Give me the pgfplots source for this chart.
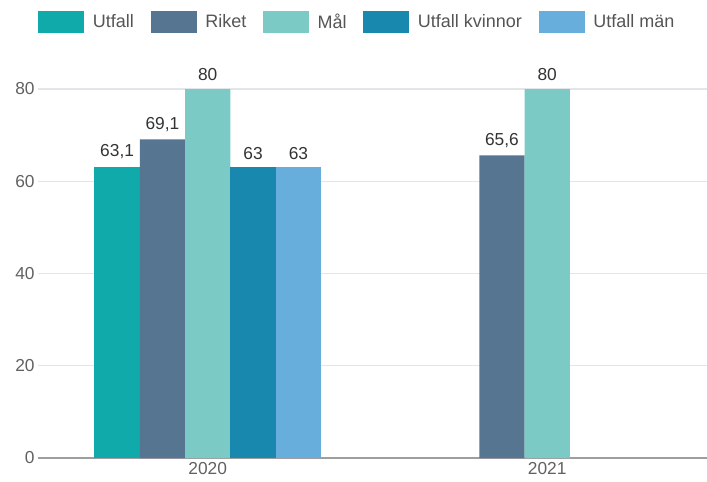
\documentclass[border=0pt]{standalone}
\usepackage{pgfplots}
\pgfplotsset{compat=1.18}
\usepackage{fontspec}
\setmainfont{Liberation Sans}
\definecolor{cUtfall}{HTML}{10AAAA}
\definecolor{cRiket}{HTML}{557590}
\definecolor{cMal}{HTML}{7BCAC5}
\definecolor{cKv}{HTML}{1888AE}
\definecolor{cMan}{HTML}{68AEDC}
\definecolor{tickgray}{HTML}{616161}
\definecolor{labeltext}{HTML}{333333}
\definecolor{legtext}{HTML}{555555}
\definecolor{gridgray}{HTML}{E3E6E8}
\definecolor{axisgray}{HTML}{9E9E9E}
\begin{document}
\begin{tikzpicture}
\begin{axis}[
  scale only axis, width=501.75pt, height=276.75pt,
  at={(0,0)}, anchor=south west,
  xmin=-0.5, xmax=1.4706, ymin=0, ymax=80,
  ybar=0pt, bar width=0.1335,
  xtick={0,1}, xticklabels={2020,2021},
  ytick={0,20,40,60,80},
  axis x line*=bottom, axis y line*=left,
  x axis line style={draw=axisgray, line width=1.3pt},
  y axis line style={draw=none},
  major tick length=0pt,
  ymajorgrids, grid style={draw=gridgray, line width=0.9pt},
  clip=false,
  /pgf/number format/assume math mode=true,
  /pgf/number format/use comma, /pgf/number format/fixed, /pgf/number format/precision=1,
  tick label style={font=\fontsize{13}{15}\selectfont, text=tickgray},
  yticklabel style={xshift=1pt},
  nodes near coords,
  every node near coord/.append style={font=\fontsize{13}{15}\selectfont, text=labeltext, anchor=south, yshift=2.5pt},
  legend columns=-1,
  legend style={at={(0,1.1816)}, anchor=west, draw=none, fill=none, inner sep=0pt,
    font=\fontsize{13.5}{15}\selectfont, text=legtext,
    /tikz/every even column/.append style={column sep=10.5pt},
    /tikz/every odd column/.append style={column sep=4.5pt}},
  legend image code/.code={\path[#1,draw=none] (0pt,-8.6pt) rectangle (34.5pt,8.6pt);},
]
\addplot[fill=cUtfall, draw=none] coordinates {(0,63.1)};
\addplot[fill=cRiket, draw=none] coordinates {(0,69.1) (1,65.6)};
\addplot[fill=cMal, draw=none] coordinates {(0,80) (1,80)};
\addplot[fill=cKv, draw=none] coordinates {(0,63)};
\addplot[fill=cMan, draw=none] coordinates {(0,63)};
\legend{Utfall, Riket, Mål, Utfall kvinnor, Utfall män}
\end{axis}
\pgfresetboundingbox
\path[use as bounding box] (-28.5pt,-18pt) rectangle (501.75pt,343.5pt);
\end{tikzpicture}
\end{document}
